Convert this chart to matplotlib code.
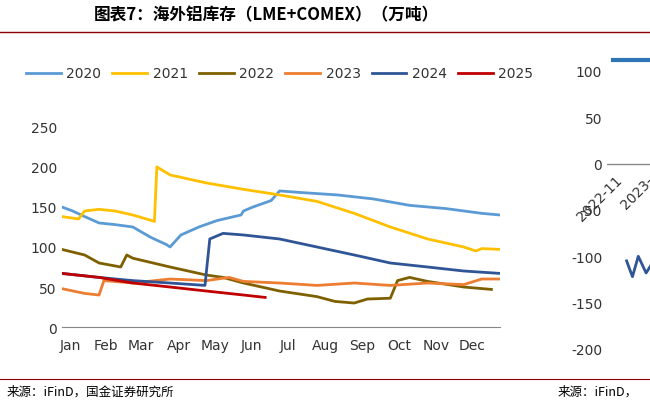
import matplotlib
matplotlib.use("Agg")
import matplotlib.pyplot as plt
import numpy as np

plt.rcParams['font.family'] = ['DejaVu Sans', 'Noto Sans CJK SC']
plt.rcParams['axes.unicode_minus'] = False

months = ["Jan","Feb","Mar","Apr","May","Jun","Jul","Aug","Sep","Oct","Nov","Dec"]
month_start = [8,38,67,98,128,159,189,220,251,281,312,342]
right_labels = ["2022-11","2023-"]

d2020 = [1,10,20,32,45,60,75,88,91,100,115,130,150,152,160,175,182,200,230,260,290,320,350,365]
v2020 = [150,145,138,130,128,125,112,103,100,115,125,133,140,145,150,158,170,168,165,160,152,148,142,140]
d2021 = [1,15,20,32,45,60,78,80,91,121,152,182,213,244,274,305,335,345,350,365]
v2021 = [138,135,145,147,145,140,132,200,190,180,172,165,157,142,125,110,100,95,98,97]
d2022 = [1,20,32,50,55,60,91,121,135,152,182,213,228,244,255,274,280,290,305,335,358]
v2022 = [97,90,80,75,90,86,75,65,62,55,45,38,32,30,35,36,58,62,57,50,47]
d2023 = [1,20,32,36,60,91,121,140,152,182,213,244,274,305,335,350,365]
v2023 = [48,42,40,58,55,60,58,62,57,55,52,55,52,55,53,60,60]
d2024 = [1,32,60,91,120,124,135,152,182,213,244,274,305,335,365]
v2024 = [67,62,58,55,52,110,117,115,110,100,90,80,75,70,67]
d2025 = [1,32,60,91,121,152,170]
v2025 = [67,62,55,50,45,40,37]

series = [("2020",d2020,v2020,"#5B9BD5"),("2021",d2021,v2021,"#FFC000"),
          ("2022",d2022,v2022,"#7F6000"),("2023",d2023,v2023,"#ED7D31"),
          ("2024",d2024,v2024,"#2F5597"),("2025",d2025,v2025,"#C00000")]

fig = plt.figure(figsize=(6.5,4.06), dpi=100)
fig.text(0.145,0.962,"图表7：海外铝库存（LME+COMEX）（万吨）",fontsize=12,fontweight='bold',
         style='italic',family='Noto Sans CJK SC',va='center')
fig.add_artist(plt.Line2D([0,1],[0.918,0.918],color='#8B0000',lw=1))
fig.add_artist(plt.Line2D([0,1],[0.064,0.064],color='#8B0000',lw=0.8))
fig.text(0.01,0.033,"来源：iFinD，国金证券研究所",fontsize=9,family='Noto Sans CJK SC',va='center')
fig.text(0.858,0.033,"来源：iFinD，",fontsize=9,family='Noto Sans CJK SC',va='center')

ax = fig.add_axes([0.095,0.192,0.674,0.493])
for name,d,v,c in series:
    ax.plot(d,v,color=c,lw=2,label=name)
ax.set_ylim(0,250); ax.set_yticks(range(0,251,50))
ax.set_xlim(1,365)
ax.set_xticks(month_start); ax.set_xticklabels(months)
for s in ['top','right','left']: ax.spines[s].set_visible(False)
ax.spines['bottom'].set_color('#888888')
ax.tick_params(axis='y',length=0,labelsize=10,colors='#333333')
ax.tick_params(axis='x',length=0,labelsize=10,colors='#333333',pad=8)
ax.legend(loc='lower left',bbox_to_anchor=(-0.11,1.17),ncol=6,frameon=False,fontsize=10,
          handlelength=2.5,columnspacing=0.8,handletextpad=0.4,labelcolor='#333333')

ax2 = fig.add_axes([0.934,0.138,0.3,0.685])
ax2.set_ylim(-200,100); ax2.set_yticks(range(-200,101,50))
ax2.set_xlim(0,10)
ax2.plot([1,1.3,1.6,2.0,2.3,3,5],[-105,-122,-100,-118,-108,-95,-70],color="#2F5597",lw=2)
ax2.plot([0.3,4],[112,112],color="#2E75B6",lw=3,clip_on=False)
ax2.plot([0,10],[0,0],color='#888888',lw=1)
ax2.text(0.4,-10,right_labels[0],rotation=45,ha='right',va='top',fontsize=10,color='#333333',
         rotation_mode='anchor')
ax2.text(2.0,-10,right_labels[1],rotation=45,ha='right',va='top',fontsize=10,color='#333333',
         rotation_mode='anchor')
ax2.set_xticks([])
for s in ['top','right','left','bottom']: ax2.spines[s].set_visible(False)
ax2.tick_params(axis='y',length=0,labelsize=10,colors='#333333')
fig.savefig("out.png",dpi=100)
